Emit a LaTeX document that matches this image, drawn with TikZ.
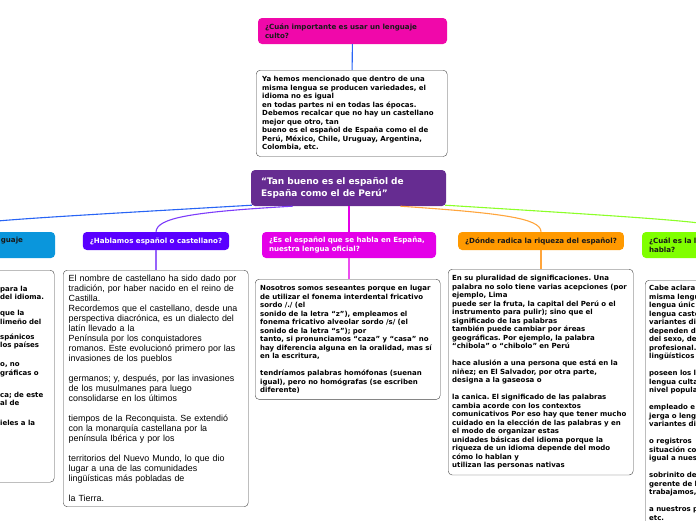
\documentclass[tikz,border=0pt]{standalone}
\usepackage{fontspec}
\setmainfont{DejaVu Sans}
\newfontfamily\arialfont{Liberation Sans}
\usetikzlibrary{calc}
\frenchspacing
\hyphenpenalty=10000
\definecolor{cultopink}{RGB}{240,8,170}
\definecolor{centropurple}{RGB}{102,44,145}
\definecolor{lenguablue}{RGB}{10,150,220}
\definecolor{hablaviolet}{RGB}{90,0,255}
\definecolor{oficialmag}{RGB}{228,0,232}
\definecolor{riquezaorange}{RGB}{255,153,0}
\definecolor{nivelgreen}{RGB}{128,255,0}
\definecolor{linkblue}{RGB}{40,100,245}
\definecolor{linkviolet}{RGB}{125,60,250}
\definecolor{linkorange}{RGB}{255,165,60}
\definecolor{linkgreen}{RGB}{140,255,40}
\definecolor{boxgray}{RGB}{70,70,70}
\definecolor{inkdark}{RGB}{25,25,25}
\tikzset{
  hdr/.style={rounded corners=4pt, align=left, inner xsep=7pt, inner ysep=0pt,
    font=\fontsize{7.1}{9.5}\selectfont\bfseries},
  txtbox/.style={draw=boxgray, fill=white, rounded corners=4pt, align=left,
    anchor=north west, inner xsep=5pt, inner ysep=6pt,
    font=\fontsize{7}{8.5}\selectfont\bfseries},
  link/.style={line width=1.1pt}
}

\begin{document}
\begin{tikzpicture}[x=1pt,y=-1pt]
\useasboundingbox (0,0) rectangle (696,520);
\clip (0,0) rectangle (696,520);

\node[hdr, fill=cultopink, text=inkdark, text width=175pt, minimum height=26pt] (culto) at (352.5,31)
  {¿Cuán importante es usar un lenguaje\\culto?};
\node[txtbox, text width=179pt, inner xsep=6pt] (cultotxt) at (256,70)
  {Ya hemos mencionado que dentro de una\\
   misma lengua se producen variedades, el\\
   idioma no es igual\\
   en todas partes ni en todas las épocas.\\
   Debemos recalcar que no hay un castellano\\
   mejor que otro, tan\\
   bueno es el español de España como el de\\
   Perú, México, Chile, Uruguay, Argentina,\\
   Colombia, etc.};

\node[hdr, fill=centropurple, text=white, text width=175pt, inner xsep=10pt, minimum height=36pt,
  font=\fontsize{9}{12}\selectfont\bfseries] (centro) at (348.5,188)
  {“Tan bueno es el español de\\España como el de Perú”};

\node[hdr, fill=lenguablue, text=inkdark, align=right, text width=141pt, inner xsep=32pt,
  minimum height=26pt] (lengua) at (-47.5,245) {guaje\\\mbox{}};
\node[hdr, fill=hablaviolet, text=white, minimum width=146pt, minimum height=18pt] (hablamos) at (156,241)
  {¿Hablamos español o castellano?};
\node[hdr, fill=oficialmag, text=white, text width=160pt, minimum height=26pt] (oficial) at (349,245)
  {¿Es el español que se habla en España,\\nuestra lengua oficial?};
\node[hdr, fill=riquezaorange, text=inkdark, minimum width=164pt, minimum height=18pt] (riqueza) at (541,241)
  {¿Dónde radica la riqueza del español?};
\node[hdr, fill=nivelgreen, text=inkdark, text width=154pt, minimum height=26pt] (nivel) at (726,245)
  {¿Cuál es la l\\habla?};

\node[txtbox, text width=185pt, inner xsep=0pt, inner ysep=5pt, text height=16pt, text depth=186pt]
  (lenguatxt) at (-131,270)
  {\leftskip=131pt para la\\
   del idioma.\\[7.5pt]
   que la\\
   limeño del\\[6.5pt]
   spánicos\\
   los países\\[10.5pt]
   o, no\\
   gráficas o\\[13.5pt]
   ca; de este\\
   al de\\[11.5pt]
   ieles a la\\
   culto del};

\node[txtbox, text width=174pt, inner xsep=5.5pt, inner ysep=5pt,
  font=\arialfont\fontsize{8.9}{10}\selectfont] (hablamostxt) at (63,270)
  {El nombre de castellano ha sido dado por\\
   tradición, por haber nacido en el reino de\\
   Castilla.\\
   Recordemos que el castellano, desde una\\
   perspectiva diacrónica, es un dialecto del\\
   latín llevado a la\\
   Península por los conquistadores\\
   romanos. Este evolucionó primero por las\\
   invasiones de los pueblos\\[10pt]
   germanos; y, después, por las invasiones\\
   de los musulmanes para luego\\
   consolidarse en los últimos\\[10pt]
   tiempos de la Reconquista. Se extendió\\
   con la monarquía castellana por la\\
   península Ibérica y por los\\[10pt]
   territorios del Nuevo Mundo, lo que dio\\
   lugar a una de las comunidades\\
   lingüísticas más pobladas de\\[10pt]
   la Tierra.};

\node[txtbox, text width=175pt] (oficialtxt) at (255,279)
  {Nosotros somos seseantes porque en lugar\\
   de utilizar el fonema interdental fricativo\\
   sordo /./ (el\\
   sonido de la letra “z”), empleamos el\\
   fonema fricativo alveolar sordo /s/ (el\\
   sonido de la letra “s”); por\\
   tanto, si pronunciamos “caza” y “casa” no\\
   hay diferencia alguna en la oralidad, mas sí\\
   en la escritura,\\[8.5pt]
   tendríamos palabras homófonas (suenan\\
   igual), pero no homógrafas (se escriben\\
   diferente)};

\node[txtbox, text width=177pt, inner xsep=4pt] (riquezatxt) at (448,269)
  {En su pluralidad de significaciones. Una\\
   palabra no solo tiene varias acepciones (por\\
   ejemplo, Lima\\
   puede ser la fruta, la capital del Perú o el\\
   instrumento para pulir); sino que el\\
   significado de las palabras\\
   también puede cambiar por áreas\\
   geográficas. Por ejemplo, la palabra\\
   “chibola” o “chibolo” en Perú\\[8.5pt]
   hace alusión a una persona que está en la\\
   niñez; en El Salvador, por otra parte,\\
   designa a la gaseosa o\\[8.5pt]
   la canica. El significado de las palabras\\
   cambia acorde con los contextos\\
   comunicativos Por eso hay que tener mucho\\
   cuidado en la elección de las palabras y en\\
   el modo de organizar estas\\
   unidades básicas del idioma porque la\\
   riqueza de un idioma depende del modo\\
   cómo lo hablan y\\
   utilizan las personas nativas};

\node[txtbox, text width=177pt, inner xsep=4pt, inner ysep=5pt, text depth=240pt] (niveltxt) at (645,280)
  {Cabe aclara\\
   misma lengu\\
   lengua únic\\
   lengua caste\\
   variantes di\\
   dependen d\\
   del sexo, de\\
   profesional.\\
   lingüísticos\\[8.5pt]
   poseen los l\\
   lengua culta\\
   nivel popula\\[8.5pt]
   empleado e\\
   jerga o leng\\
   variantes di\\[8.5pt]
   o registros\\
   situación co\\
   igual a nues\\[8.5pt]
   sobrinito de\\
   gerente de l\\
   trabajamos,\\[8.5pt]
   a nuestros p\\
   etc.};

\draw[link, linkblue] (culto) -- (cultotxt);
\draw[link, linkblue] ($(centro.south west)+(1,-1)$) .. controls (-20,221) and (-47,222) .. (lengua.north);
\draw[link, linkviolet] ($(centro.south)+(-56,0)$) .. controls (190,212) and (157,218) .. (hablamos.north);
\draw[link, oficialmag] (centro.south -| oficial.north) -- (oficial.north);
\draw[link, linkorange] ($(centro.south)+(52,0)$) .. controls (500,213) and (541,218) .. (riqueza.north);
\draw[link, linkgreen] ($(centro.south east)+(-1,-1)$) .. controls (700,221) and (726,223) .. (nivel.north);
\draw[link, linkviolet!80] (hablamos) -- (hablamostxt.north -| hablamos.south);
\draw[link, oficialmag!70] (oficial) -- (oficialtxt.north -| oficial.south);
\draw[link, linkorange] (riqueza) -- (riquezatxt.north -| riqueza.south);
\end{tikzpicture}
\end{document}
